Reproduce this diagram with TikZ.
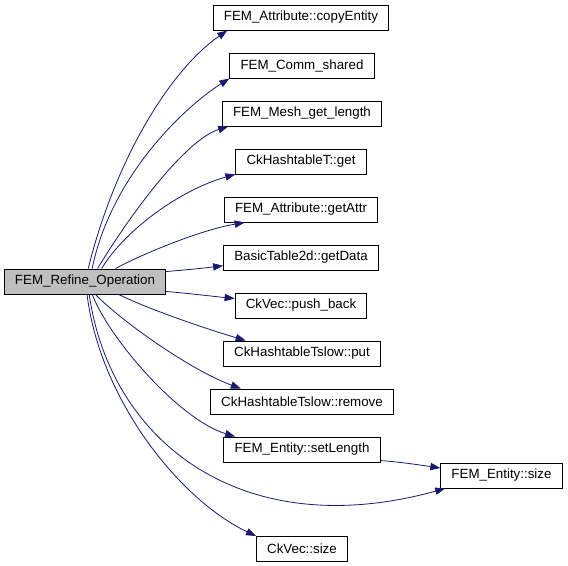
\documentclass[tikz,border=0pt]{standalone}
\usepackage{fontspec}
\setmainfont{Liberation Sans}
\usepackage{tikz}
\usetikzlibrary{arrows.meta}

\definecolor{edgeblue}{HTML}{191970}
\definecolor{rootgray}{HTML}{BFBFBF}

\begin{document}
\begin{tikzpicture}[x=0.75pt,y=-0.75pt,
	fn/.style={draw=black,fill=white,line width=0.75pt,minimum height=18.75pt,inner xsep=8pt,inner ysep=2pt,font=\fontsize{10}{12}\selectfont},
	rootfn/.style={fn,fill=rootgray},
	call/.style={draw=edgeblue,line width=0.6pt,-{Triangle[length=7.5pt,width=5.5pt]},shorten >=0pt}]
				\useasboundingbox (0,0) rectangle (568,565);
				% callee boxes
				\node[rootfn] (refine) at (85,281.5){FEM\_Refine\_Operation};
				\node[fn] (copyent) at (301,17.5){FEM\_Attribute::copyEntity};
				\node[fn] (commsh) at (302,65.5){FEM\_Comm\_shared};
				\node[fn] (meshlen) at (302,113.5){FEM\_Mesh\_get\_length};
				\node[fn] (htget) at (301,161.5){CkHashtableT::get};
				\node[fn] (getattr) at (301,209.5){FEM\_Attribute::getAttr};
				\node[fn] (getdata) at (301,257.5){BasicTable2d::getData};
				\node[fn] (pushbk) at (301,305.5){CkVec::push\_back};
				\node[fn] (slowput) at (302,353.5){CkHashtableTslow::put};
				\node[fn] (slowrem) at (302,401.5){CkHashtableTslow::remove};
				\node[fn] (setlen) at (302,449.5){FEM\_Entity::setLength};
				\node[fn] (entsize) at (501.5,475.5){FEM\_Entity::size};
				\node[fn] (vecsize) at (302,549){CkVec::size};
				% calls
				\draw[call] (refine.76) .. controls (115,160) and (170,70) .. (copyent.190);
				\draw[call] (refine.61) .. controls (110,180) and (180,110) .. (commsh.south west);
				\draw[call] (refine.46) .. controls (130,215) and (185,140) .. (meshlen.190);
				\draw[call] (refine.38) .. controls (125,230) and (180,190) .. (htget.191);
				\draw[call] (refine.23) .. controls (140,255) and (200,230) .. (getattr.193);
				\draw[call] (refine.7) .. controls (185,270) and (205,268) .. (getdata.186);
				\draw[call] (refine.353) .. controls (185,293) and (210,296) .. (pushbk.174);
				\draw[call] (refine.339) .. controls (150,310) and (210,330) .. (slowput.167);
				\draw[call] (refine.309) .. controls (120,320) and (190,370) .. (slowrem.168);
				\draw[call] (refine.299) .. controls (110,340) and (180,420) .. (setlen.169);
				\draw[call] (refine.288) .. controls (110,440) and (240,545) .. (entsize.193);
				\draw[call] (refine.279) .. controls (100,400) and (180,500) .. (vecsize.north west);
				\draw[call] (setlen.352) .. controls (400,462) and (420,465) .. (entsize.173);
			\end{tikzpicture}
\end{document}
